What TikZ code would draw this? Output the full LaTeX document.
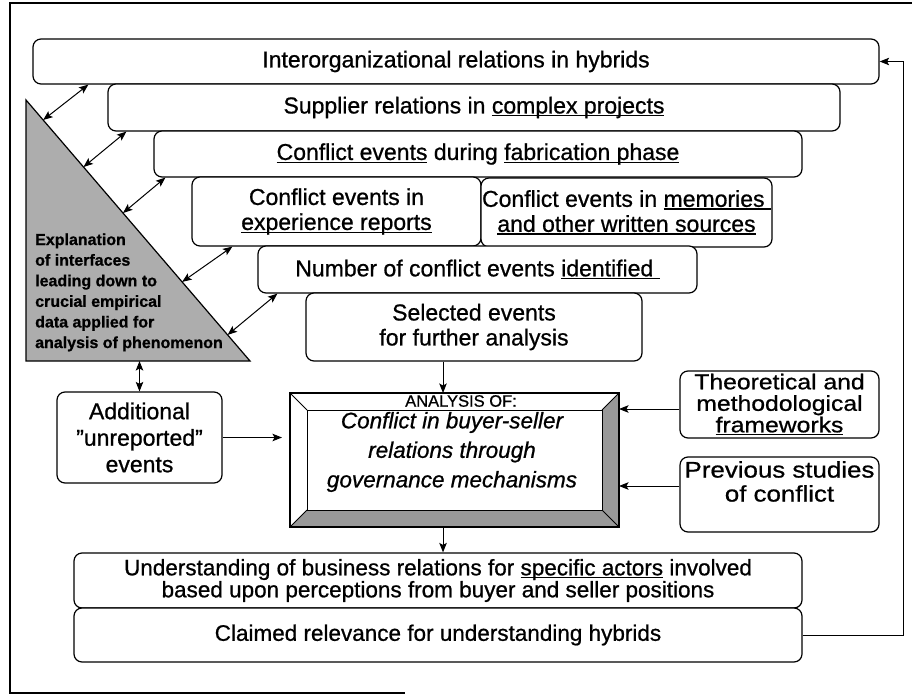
\documentclass[tikz,border=0pt]{standalone}
\usepackage{fontspec}
\setmainfont{Liberation Sans}[FakeBold=0.8]
\newfontfamily\widefont{Liberation Sans}[FakeBold=0.8, FakeStretch=1.15]
\usetikzlibrary{calc,arrows.meta}

% underline at a fixed depth below the baseline
\newsavebox{\ulinbox}
\newcommand{\ulin}[1]{\sbox{\ulinbox}{#1}\rlap{\rule[-3pt]{\wd\ulinbox}{1.4pt}}\usebox{\ulinbox}}

\tikzset{
  panel/.style={draw, line width=1.2pt, rounded corners=8pt, fill=white, inner sep=0pt,
                align=center, font=\fontsize{23}{25}\selectfont},
  tip/.tip={Stealth[length=9.5pt,width=7.5pt,inset=2pt]},
  link/.style={line width=1pt, -tip},
  dlink/.style={line width=1pt, tip-tip},
  halftone/.style={fill=black!32},
  outerline/.style={line width=1.8pt}
}

\begin{document}
\begin{tikzpicture}[x=1pt, y=-1pt]
\useasboundingbox (0,0) rectangle (912,698);
\fill[white] (0,0) rectangle (912,698);

% outer frame
\draw[outerline] (912,3) -- (10,3) -- (10,693) -- (405,693);

% staircase of boxes
\node[panel, minimum width=846pt, minimum height=45pt] (b1) at (456,61.5)
  {Interorganizational relations in hybrids};
\node[panel, minimum width=732pt, minimum height=47pt] (b2) at (474,107.5)
  {Supplier relations in \ulin{complex projects}};
\node[panel, minimum width=648pt, minimum height=46pt] (b3) at (478,154)
  {\ulin{Conflict events} during \ulin{fabrication phase}};
\node[panel, minimum width=289pt, minimum height=69pt] (b4) at (336.5,211.5)
  {Conflict events in\\\ulin{experience reports}};
\node[panel, minimum width=291pt, minimum height=69pt] (b5) at (626.5,212.5)
  {Conflict events in \ulin{memories\ }\\\ulin{and other written sources}};
\node[panel, minimum width=439pt, minimum height=47pt] (b6) at (477.5,269.5)
  {Number of conflict events \ulin{identified\ }};
\node[panel, minimum width=336pt, minimum height=68pt] (b7) at (474,327)
  {Selected events\\for further analysis};

% explanation triangle
\coordinate (tA) at (26,100);
\coordinate (tB) at (26,361);
\coordinate (tC) at (250,361);
\draw[line width=1.2pt, halftone] (tA) -- (tB) -- (tC) -- cycle;
\node[anchor=west, align=left, inner sep=0pt, font=\bfseries\fontsize{16}{20.6}\selectfont]
  (tri-text) at (35,292.4)
  {Explanation\\of interfaces\\leading down to\\crucial empirical\\data applied for\\analysis of phenomenon};
\coordinate (t1) at ($(tA)!0.0766!(tC)$);
\coordinate (t2) at ($(tA)!0.2567!(tC)$);
\coordinate (t3) at ($(tA)!0.433!(tC)$);
\coordinate (t4) at ($(tA)!0.697!(tC)$);
\coordinate (t5) at ($(tA)!0.900!(tC)$);

\draw[dlink] ($(b1.south west)+(56,0)$) -- (t1);
\draw[dlink] ($(b2.south west)+(19,0)$) -- (t2);
\draw[dlink] ($(b3.south west)+(12,0)$) -- (t3);
\draw[dlink] ($(b4.south west)+(41,0)$) -- (t4);
\draw[dlink] ($(b6.south west)+(20,0)$) -- (t5);

% side inputs
\node[panel, minimum width=165pt, minimum height=91pt, font=\fontsize{23}{26.5}\selectfont]
  (add) at (139.5,437.5) {Additional\\”unreported”\\events};
\node[panel, minimum width=199pt, minimum height=67pt, font=\widefont\fontsize{21.5}{21.5}\selectfont]
  (theo) at (779.5,404.5) {Theoretical and\\methodological\\\ulin{frameworks}};
\node[panel, minimum width=199pt, minimum height=75pt] (prev) at (779.5,494.5) {};
\node[align=center, inner sep=0pt, font=\widefont\fontsize{22.5}{24}\selectfont]
  (prev-text) at (779.5,481.5) {Previous studies\\of conflict};

% bevelled analysis box
\node[draw, fill=white, line width=1.2pt, outer sep=0pt, inner sep=0pt,
      minimum width=329pt, minimum height=134pt] (cen) at (454.5,460) {};
\coordinate (ciNW) at ($(cen.north west)+(17,17)$);
\coordinate (ciNE) at ($(cen.north east)+(-17,17)$);
\coordinate (ciSE) at ($(cen.south east)+(-17,-17)$);
\coordinate (ciSW) at ($(cen.south west)+(17,-17)$);
\fill[black!40] (cen.south west) -- (cen.south east) -- (ciSE) -- (ciSW) -- cycle;
\fill[black!40] (cen.south east) -- (cen.north east) -- (ciNE) -- (ciSE) -- cycle;
\draw[line width=1pt] (ciNW) rectangle (ciSE);
\draw[line width=1pt] (cen.north west) -- (ciNW) (cen.north east) -- (ciNE)
  (cen.south east) -- (ciSE) (cen.south west) -- (ciSW);
\draw[line width=1.2pt] (cen.north west) rectangle (cen.south east);
\node[inner sep=0pt, font=\fontsize{16.5}{18}\selectfont] (cen-head) at (461,401) {ANALYSIS OF:};
\node[align=center, inner sep=0pt, font=\itshape\fontsize{22.5}{29.5}\selectfont]
  (cen-text) at (452,452) {Conflict in buyer-seller\\relations through\\governance mechanisms};

% outcome boxes
\node[panel, minimum width=728pt, minimum height=55pt, font=\fontsize{22.5}{20}\selectfont]
  (und) at (438,580.5)
  {Understanding of business relations for \ulin{specific actors} involved\\based upon perceptions from buyer and seller positions};
\node[panel, minimum width=728pt, minimum height=54pt, font=\fontsize{22.5}{25}\selectfont]
  (clm) at (438,635) {Claimed relevance for understanding hybrids};

% flow connectors
\draw[dlink] (add.north |- tB) -- (add.north);
\draw[link] ($(b7.south)+(-31,0)$) coordinate (p7) -- (p7 |- cen.north);
\draw[link, shorten >=8pt] (add.east) -- (add.east -| cen.west);
\draw[link] ($(theo.west)+(0,4.5)$) coordinate (pt) -- (pt -| cen.east);
\draw[link] ($(prev.west)+(0,-8.5)$) coordinate (pp) -- (pp -| cen.east);
\draw[link] ($(cen.south)+(-11.5,0)$) coordinate (pc) -- (pc |- und.north);
\draw[link] (clm.east) -- ++(101,0) coordinate (fb) -- (fb |- b1.east) -- (b1.east);
\end{tikzpicture}
\end{document}
